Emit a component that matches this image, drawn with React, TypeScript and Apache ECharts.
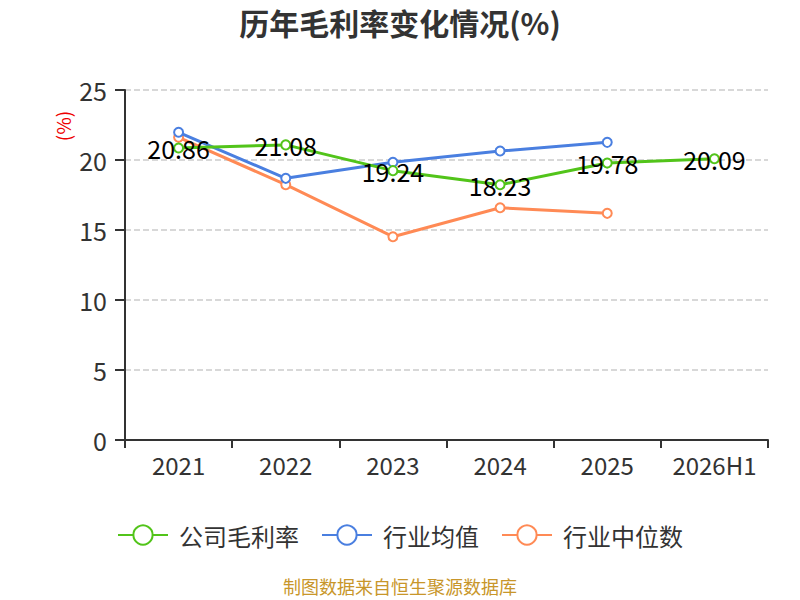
import React, { useEffect, useRef } from "react";
import * as echarts from "echarts";

const categories = ["2021", "2022", "2023", "2024", "2025", "2026H1"];
const companyValues = [20.86, 21.08, 19.24, 18.23, 19.78, 20.09];
const industryAvg = [21.98, 18.69, 19.84, 20.64, 21.26, null];
const industryMedian = [21.62, 18.24, 14.52, 16.59, 16.19, null];

const seriesNames = ["公司毛利率", "行业均值", "行业中位数"];
const colors = ["#52c41a", "#4a7fe0", "#ff8a55"];

export default function App() {
  const ref = useRef<HTMLDivElement>(null);
  useEffect(() => {
    document.body.style.margin = "0";
    const chart = echarts.init(ref.current!, null, { renderer: "svg" });
    const font = "'Noto Sans CJK SC', 'Noto Sans', sans-serif";
    const mk = (name: string, data: any[], color: string, showLabel: boolean, z: number) => ({
      name,
      type: "line",
      data,
      z,
      symbol: "emptyCircle",
      symbolSize: 9,
      lineStyle: { width: 3, color },
      itemStyle: { color, borderWidth: 1.5 },
      label: showLabel
        ? {
            show: true,
            position: "inside",
            color: "#000",
            fontSize: 25,
            fontFamily: font,
            formatter: (p: any) => p.value.toFixed(2),
          }
        : { show: false },
    });
    chart.setOption({
      animation: false,
      textStyle: { fontFamily: font },
      title: {
        text: "历年毛利率变化情况(%)",
        left: "center",
        top: 2,
        textStyle: { fontSize: 30, fontWeight: "bold", color: "#333", fontFamily: font },
      },
      legend: {
        bottom: 48,
        left: "center",
        itemWidth: 50,
        itemHeight: 24,
        itemGap: 22,
        textStyle: { fontSize: 24, color: "#333", fontFamily: font, padding: [0, 0, 0, 6] },
        data: seriesNames,
      },
      grid: { left: 125, right: 32, top: 90, bottom: 160 },
      xAxis: {
        type: "category",
        data: categories,
        axisLine: { lineStyle: { color: "#333", width: 2 } },
        axisTick: { show: true, length: 8, lineStyle: { color: "#333", width: 2 } },
        axisLabel: { fontSize: 24, color: "#333", margin: 12, interval: 0, fontFamily: font },
      },
      yAxis: {
        type: "value",
        min: 0,
        max: 25,
        interval: 5,
        axisLine: { show: true, lineStyle: { color: "#333", width: 2 } },
        axisTick: { show: true, length: 10, lineStyle: { color: "#333", width: 2 } },
        axisLabel: { fontSize: 25, color: "#333", margin: 18, fontFamily: font },
        splitLine: { lineStyle: { type: "dashed", color: "#ccc", width: 1.5 } },
      },
      graphic: [
        {
          type: "text",
          x: 62,
          y: 126,
          rotation: Math.PI / 2,
          style: {
            text: "(%)",
            fill: "#e00",
            fontSize: 19,
            fontFamily: font,
            textAlign: "center",
            textVerticalAlign: "middle",
          },
        },
        {
          type: "text",
          left: "center",
          top: 577,
          style: {
            text: "制图数据来自恒生聚源数据库",
            fill: "#c8962a",
            fontSize: 18,
            fontFamily: font,
          },
        },
      ],
      series: [
        mk(seriesNames[0], companyValues, colors[0], true, 3),
        mk(seriesNames[1], industryAvg, colors[1], false, 2),
        mk(seriesNames[2], industryMedian, colors[2], false, 1),
      ],
    });
    return () => chart.dispose();
  }, []);
  return <div ref={ref} style={{ width: 800, height: 600 }} />;
}
